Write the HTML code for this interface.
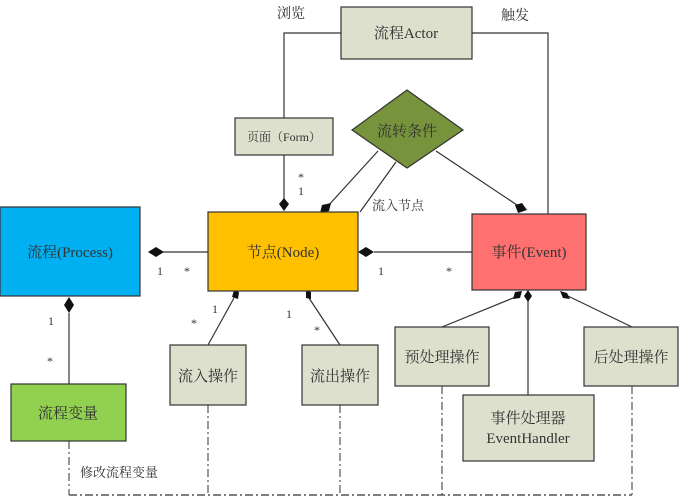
<!DOCTYPE html>
<html><head><meta charset="utf-8"><style>
html,body{margin:0;padding:0;background:#fff;}
svg{display:block;}
text{font-family:"Liberation Serif","Noto Serif CJK SC","Noto Sans CJK SC",serif;fill:#333;}
</style></head><body>
<svg width="679" height="502" viewBox="0 0 679 502" xmlns="http://www.w3.org/2000/svg">
<g stroke="#333" stroke-width="1.2" fill="none">
<polyline points="341,33 284,33 284,118"/>
<polyline points="472,33 548,33 548,214"/>
<line x1="284" y1="155" x2="284" y2="204"/>
<line x1="378" y1="151" x2="327" y2="207"/>
<line x1="396" y1="162" x2="360" y2="212"/>
<line x1="436" y1="151" x2="520" y2="207"/>
<line x1="156" y1="252" x2="208" y2="252"/>
<line x1="374" y1="252" x2="472" y2="252"/>
<line x1="69" y1="313" x2="69" y2="384"/>
<line x1="234" y1="298" x2="208" y2="345"/>
<line x1="309" y1="298" x2="340" y2="345"/>
<line x1="518" y1="296" x2="442" y2="327"/>
<line x1="528" y1="300" x2="528" y2="395"/>
<line x1="568" y1="296" x2="632" y2="327"/>
</g>
<g fill="#111">
<polygon points="284,198 289,204 284,211 279,204"/>
<polygon points="148,252 156,247 164,252 156,257"/>
<polygon points="358,252 366,247 374,252 366,257"/>
<polygon points="69,297 74,305 69,313 64,305"/>
<polygon points="320,213 322,205 331,203 329,211"/>
<polygon points="518,213 515,205 522,203 527,210"/>
<polygon points="234,290 239,292 238,299 232,297"/>
<polygon points="306,290 311,292 311,299 306,298"/>
<polygon points="522,291 520,298 513,299 515,292"/>
<polygon points="528,290 532,296 528,302 524,296"/>
<polygon points="560,291 567,293 570,299 563,298"/>
</g>
<g stroke="#555" stroke-width="1.2" fill="none" stroke-dasharray="8,3,2,3">
<line x1="69" y1="441" x2="69" y2="495"/>
<line x1="208" y1="405" x2="208" y2="495"/>
<line x1="340" y1="405" x2="340" y2="495"/>
<line x1="442" y1="386" x2="442" y2="495"/>
<line x1="632" y1="386" x2="632" y2="495"/>
<line x1="69" y1="495" x2="632" y2="495" stroke-width="1.6"/>
</g>
<g stroke="#333" stroke-width="1.2">
<rect x="341" y="7" width="131" height="52" fill="#dde0cd"/>
<rect x="235" y="118" width="98" height="37" fill="#dde0cd"/>
<polygon points="407,90 463,130 407,168 352,130" fill="#77933c"/>
<rect x="0" y="207" width="140" height="89" fill="#00b0f0"/>
<rect x="208" y="212" width="150" height="79" fill="#ffc000"/>
<rect x="472" y="214" width="114" height="76" fill="#ff7070"/>
<rect x="11" y="384" width="115" height="57" fill="#92d050"/>
<rect x="170" y="345" width="76" height="60" fill="#dde0cd"/>
<rect x="302" y="345" width="76" height="60" fill="#dde0cd"/>
<rect x="395" y="327" width="94" height="59" fill="#dde0cd"/>
<rect x="584" y="327" width="94" height="59" fill="#dde0cd"/>
<rect x="463" y="395" width="131" height="66" fill="#dde0cd"/>
</g>
<g font-size="15" text-anchor="middle">
<text x="406" y="38">流程Actor</text>
<text x="407" y="136">流转条件</text>
<text x="70" y="257">流程(Process)</text>
<text x="283" y="257">节点(Node)</text>
<text x="529" y="257">事件(Event)</text>
<text x="68" y="418">流程变量</text>
<text x="208" y="381">流入操作</text>
<text x="340" y="381">流出操作</text>
<text x="442" y="362">预处理操作</text>
<text x="631" y="362">后处理操作</text>
<text x="528" y="423">事件处理器</text>
<text x="528" y="443">EventHandler</text>
</g>
<g font-size="12" text-anchor="middle">
<text x="284" y="141">页面（Form）</text>
<text x="291" y="18" font-size="14">浏览</text>
<text x="515" y="20" font-size="14">触发</text>
<text x="398" y="210" font-size="13">流入节点</text>
<text x="119" y="477" font-size="13">修改流程变量</text>
<text x="301" y="181">*</text>
<text x="301" y="195">1</text>
<text x="160" y="275">1</text>
<text x="187" y="275">*</text>
<text x="381" y="275">1</text>
<text x="449" y="275">*</text>
<text x="51" y="325">1</text>
<text x="50" y="365">*</text>
<text x="215" y="313">1</text>
<text x="194" y="327">*</text>
<text x="289" y="318">1</text>
<text x="317" y="334">*</text>
</g>
</svg>
</body></html>
